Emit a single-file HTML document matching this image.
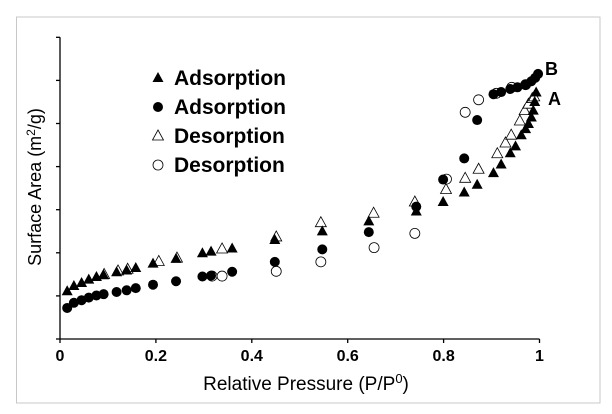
<!DOCTYPE html>
<html><head><meta charset="utf-8"><style>
body{margin:0;background:#fff}
svg{display:block;font-family:"Liberation Sans",sans-serif}
</style></head><body>
<svg id="c" width="612" height="414" viewBox="0 0 612 414">
<rect x="16.5" y="17" width="583.5" height="386" fill="#fff" stroke="#c8c8c8" stroke-width="1"/>
<g id="axes"></g>
<g id="marks"></g>
<g font-size="21" font-weight="bold" fill="#000">
<polygon points="158,72 152.5,82 163.5,82" fill="#000"/>
<text x="174" y="85">Adsorption</text>
<circle cx="158" cy="107" r="5" fill="#000"/>
<text x="174" y="114">Adsorption</text>
<polygon points="158,130 152.5,140 163.5,140" fill="#fff" stroke="#000" stroke-width="0.8"/>
<text x="174" y="143">Desorption</text>
<circle cx="158" cy="165" r="5" fill="#fff" stroke="#000" stroke-width="0.8"/>
<text x="174" y="172">Desorption</text>
</g>
<text x="545" y="75" font-size="18" font-weight="bold">B</text>
<text x="548" y="105" font-size="18" font-weight="bold">A</text>
<text x="306" y="390" font-size="19" text-anchor="middle">Relative Pressure (P/P<tspan dy="-7" font-size="13">0</tspan><tspan dy="7">)</tspan></text>
<text transform="translate(41,187) rotate(-90)" font-size="18" text-anchor="middle">Surface Area (m<tspan dy="-6" font-size="12">2</tspan><tspan dy="6">/g)</tspan></text>
</svg>
<script>
const xTicks=[0,0.2,0.4,0.6,0.8,1];
const xTickLabels=["0","0.2","0.4","0.6","0.8","1"];
const yTicks=[0,1,2,3,4,5,6,7];
const adsAx=[.015,.029,.045,.060,.076,.091,.118,.139,.158,.194,.242,.297,.315,.359,.448,.547,.644,.743,.799,.843,.870,.904,.920,.939,.950,.962,.971,.977,.983,.987,.990,.993];
const adsAy=[1.12,1.24,1.31,1.39,1.45,1.49,1.56,1.60,1.66,1.76,1.87,2.00,2.04,2.11,2.31,2.51,2.74,2.97,3.19,3.41,3.59,3.86,4.06,4.32,4.48,4.74,4.88,5.00,5.15,5.31,5.51,5.73];
const adsBx=[.015,.029,.045,.060,.076,.091,.118,.139,.158,.194,.242,.297,.315,.359,.448,.547,.644,.743,.799,.843,.870,.904,.920,.939,.954,.971,.983,.991,.997];
const adsBy=[.72,.84,.90,.96,1.01,1.04,1.09,1.13,1.18,1.26,1.34,1.45,1.47,1.56,1.79,2.08,2.48,3.07,3.70,4.19,5.08,5.68,5.73,5.80,5.84,5.90,5.98,6.06,6.15];
const desAx=[.092,.121,.141,.206,.244,.338,.451,.544,.654,.740,.805,.845,.873,.912,.929,.941,.959,.969,.977,.985,.989];
const desAy=[1.51,1.59,1.63,1.81,1.89,2.10,2.38,2.71,2.93,3.19,3.48,3.74,3.95,4.31,4.56,4.74,5.07,5.31,5.46,5.59,5.63];
const desBx=[.317,.338,.451,.544,.655,.740,.806,.845,.873,.910,.942,.971];
const desBy=[1.46,1.46,1.57,1.79,2.12,2.45,3.71,5.26,5.55,5.70,5.84,5.90];
const NS="http://www.w3.org/2000/svg";
const X=v=>60+479.5*v, Y=v=>339-43.1*v;
const axes=document.getElementById('axes'), marks=document.getElementById('marks');
function mk(t,a,p){const e=document.createElementNS(NS,t);for(const k in a)e.setAttribute(k,a[k]);p.appendChild(e);return e;}
let e=mk('line',{x1:X(0),y1:Y(7),x2:X(0),y2:Y(0),stroke:'#000','stroke-width':1.3},axes);


e=mk('line',{x1:X(0),y1:Y(0),x2:X(1),y2:Y(0),stroke:'#000','stroke-width':1.3},axes);


yTicks.forEach(v=>{const t=mk('line',{x1:X(0)-4,y1:Y(v),x2:X(0),y2:Y(v),stroke:'#000','stroke-width':1.3},axes);

});
xTicks.forEach((v,i)=>{const t=mk('line',{x1:X(v),y1:Y(0),x2:X(v),y2:Y(0)+4,stroke:'#000','stroke-width':1.3},axes);


const l=mk('text',{x:X(v),y:361,'font-size':16,'font-weight':'bold','text-anchor':'middle'},axes);l.textContent=xTickLabels[i];

});
function tri(xs,ys,fill,name){xs.forEach((x,i)=>{const cx=X(x),cy=Y(ys[i]);
const p=mk('polygon',{points:`${cx},${cy-5.5} ${cx-5.5},${cy+4.5} ${cx+5.5},${cy+4.5}`,fill:fill,stroke:'#000','stroke-width':fill=='#000'?0:0.8},marks);

});}
function circ(xs,ys,fill,name){xs.forEach((x,i)=>{const c=mk('circle',{cx:X(x),cy:Y(ys[i]),r:5,fill:fill,stroke:'#000','stroke-width':fill=='#000'?0:0.8},marks);

});}
tri(desAx,desAy,'#fff','desorption-a-point');
circ(desBx,desBy,'#fff','desorption-b-point');
tri(adsAx,adsAy,'#000','adsorption-a-point');
circ(adsBx,adsBy,'#000','adsorption-b-point');
</script>
</body></html>
